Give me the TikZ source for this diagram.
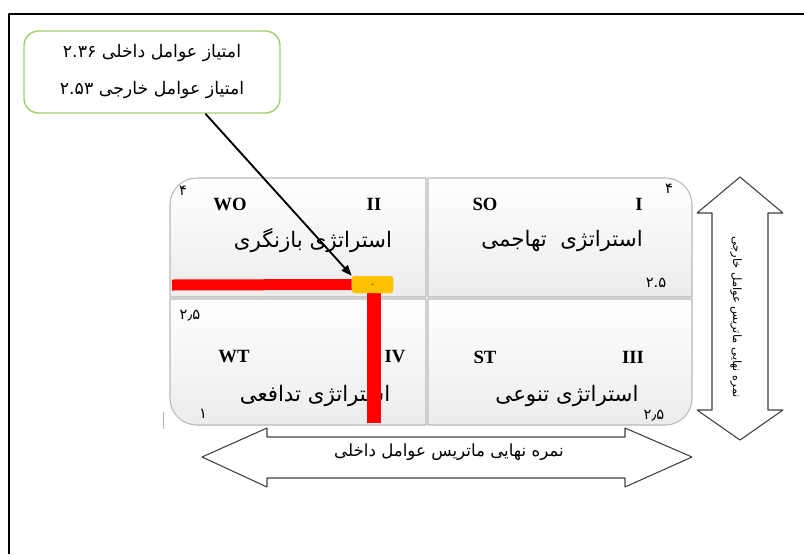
\documentclass[tikz,border=0pt]{standalone}
\usepackage{fontspec}
\setmainfont{Liberation Serif}
\newfontfamily\arabicfont[Script=Arabic]{DejaVu Sans}
\TeXXeTstate=1
\usetikzlibrary{arrows.meta}

\definecolor{boxgreen}{RGB}{160,210,112}
\definecolor{pointgold}{RGB}{255,192,0}

\begin{document}
\begin{tikzpicture}[x=0.75pt, y=-0.75pt, line join=bevel,
  quad/.style={draw=gray!55, line width=0.8pt, top color=white, bottom color=gray!15},
  roman/.style={font=\fontsize{14}{16}\selectfont\bfseries},
  fa/.style={font=\arabicfont\fontsize{16}{18}\selectfont},
  corner/.style={font=\arabicfont\fontsize{11}{12}\selectfont, inner sep=0pt},
  redbar/.style={draw=red, line cap=butt},
  bigarrow/.style={draw=black!75, line width=0.8pt, fill=white}]

  \useasboundingbox (0,0) rectangle (804,554);
  % frame
  \draw[line width=2.2pt] (9,554) -- (9,14) -- (804,14);

  % the four quadrants
  \path[quad] (426,297) -- (170,297) [rounded corners=20] -- (170,178) [sharp corners] -- (426,178) -- cycle;
  \path[quad] (428,178) [rounded corners=20] -- (692,178) [sharp corners] -- (692,297) -- (428,297) -- cycle;
  \path[quad] (170,299) -- (426,299) -- (426,425) [rounded corners=20] -- (170,425) [sharp corners] -- cycle;
  \path[quad] (428,299) -- (692,299) [rounded corners=20] -- (692,425) [sharp corners] -- (428,425) -- cycle;

  % quadrant labels
  \node[roman] (wo) at (230,204) {WO};
  \node[roman] (two) at (374,204) {II};
  \node[roman] (so) at (485,204) {SO};
  \node[roman] (one) at (639,204) {I};
  \node[roman] (wt) at (234,357) {WT};
  \node[roman] (four) at (395,357) {IV};
  \node[roman] (st) at (485,357) {ST};
  \node[roman] (three) at (633,357) {III};

  \node[fa] (review) at (313,241) {\beginR استراتژی بازنگری\endR};
  \node[fa] (attack) at (562,241) {\beginR استراتژی \ تهاجمی\endR};
  \node[fa] (defend) at (315,396) {\beginR استراتژی تدافعی\endR};
  \node[fa] (diverse) at (567,396) {\beginR استراتژی تنوعی\endR};

  \node[corner] (maxw) at (183,191) {۴};
  \node[corner] (maxs) at (669,189) {۴};
  \node[corner] (midso) at (656,283) {۲.۵};
  \node[corner] (midwt) at (190,316) {۲٫۵};
  \node[corner] (minwt) at (203,414) {۱};
  \node[corner] (midst) at (654,416) {۲٫۵};

  % position of the organisation
  \node[fill=pointgold, rounded corners=2pt, minimum width=30.75pt, minimum height=12.75pt, inner sep=0pt] (point) at (372.5,284.5) {};
  \coordinate (leftend) at (172,285);
  \coordinate (bottomend) at (374,423);
  \draw[redbar, line width=8.25pt] (leftend) -- (point.west);
  \draw[redbar, line width=10.5pt] (point.south -| bottomend) -- (bottomend);
  \node[fill=pointgold, rounded corners=2pt, minimum width=30.75pt, minimum height=12.75pt, inner sep=0pt] at (point) {};
  \fill[black!60] (point) circle (0.8);

  % scores box
  \node[draw=boxgreen, line width=1.1pt, rounded corners=11pt, minimum width=192pt, minimum height=61.5pt,
        align=center, font=\arabicfont\fontsize{13}{27.75}\selectfont] (scores) at (152,72)
        {\beginR امتیاز عوامل داخلی \beginL۲.۳۶\endL\endR\\\beginR امتیاز عوامل خارجی \beginL۲.۵۳\endL\endR};
  \draw[line width=1.4pt, -{Triangle[length=8pt,width=6pt]}] (scores.-38) -- (point.north west);

  % small mark
  \draw[gray!60, line width=0.6pt] (163,412) -- (163,429);

  % axis arrows
  \draw[bigarrow] (202,457) -- (267,428) -- (267,437) -- (625,437) -- (625,428) -- (692,457)
    -- (625,487) -- (625,478) -- (267,478) -- (267,487) -- cycle;
  \node[font=\arabicfont\fontsize{12.5}{14}\selectfont] (xaxis) at (449,452) {\beginR نمره نهایی ماتریس عوامل داخلی\endR};

  \draw[bigarrow] (740,177) -- (783,213) -- (768,213) -- (768,410) -- (783,410) -- (740,440)
    -- (697,410) -- (712,410) -- (712,213) -- (697,213) -- cycle;
  \node[rotate=-90, font=\arabicfont\fontsize{8.6}{10}\selectfont] (yaxis) at (736,317) {\beginR نمره نهایی ماتریس عوامل خارجی\endR};
\end{tikzpicture}
\end{document}
